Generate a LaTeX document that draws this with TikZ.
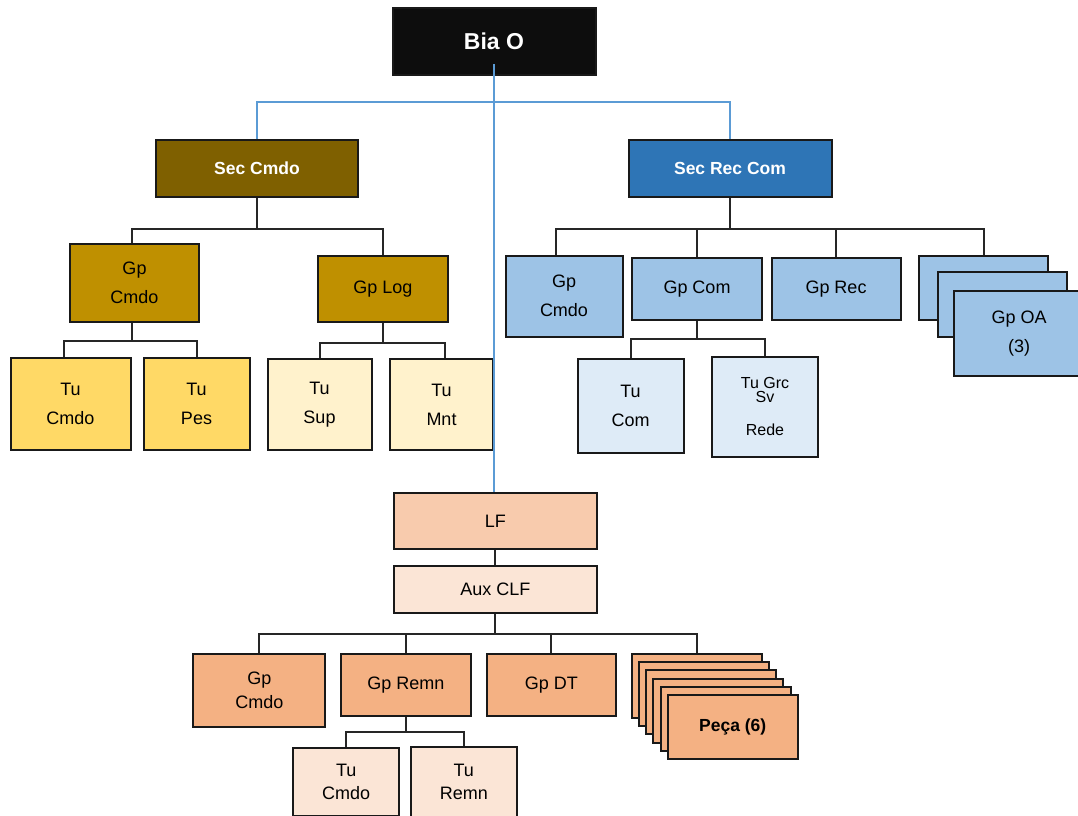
\documentclass[tikz,border=0pt]{standalone}
\usepackage{fontspec}
\setmainfont{Liberation Sans}
\definecolor{biaBlack}{HTML}{0D0D0D}
\definecolor{secBrown}{HTML}{7F6000}
\definecolor{gpGold}{HTML}{BF9000}
\definecolor{tuGold}{HTML}{FFD966}
\definecolor{tuPale}{HTML}{FFF2CC}
\definecolor{secBlue}{HTML}{2E75B6}
\definecolor{gpBlue}{HTML}{9DC3E6}
\definecolor{tuBlue}{HTML}{DEEBF7}
\definecolor{lfOrange}{HTML}{F8CBAD}
\definecolor{auxOrange}{HTML}{FBE5D6}
\definecolor{gpOrange}{HTML}{F4B183}
\definecolor{lineblue}{HTML}{5B9BD5}
\begin{document}
\begin{tikzpicture}[x=1pt,y=-1pt,
  box/.style={draw=black!90, line width=2pt, rectangle, inner sep=0pt, align=center, font=\fontsize{18}{29}\selectfont},
  whitebold/.style={text=white, font=\fontsize{17.5}{20}\selectfont\bfseries},
  tight/.style={font=\fontsize{18}{23.5}\selectfont},
  conn/.style={draw=black!85, line width=2pt},
  blueline/.style={draw=lineblue, line width=2pt},
]
\useasboundingbox (0,0) rectangle (1078,815);

% top
\node[box, fill=biaBlack, text=white, font=\fontsize{23}{26}\selectfont\bfseries, minimum width=203pt, minimum height=67.5pt] (bia) at (494,41.25) {Bia O};

% sections
\node[box, fill=secBrown, whitebold, minimum width=202pt, minimum height=56.5pt] (secC) at (257,168.5) {Sec Cmdo};
\node[box, fill=secBlue, whitebold, minimum width=203pt, minimum height=56.5pt] (secR) at (730,168.5) {Sec Rec Com};

% left branch
\node[box, fill=gpGold, minimum width=129pt, minimum height=78pt] (gpC) at (134.5,282.5) {Gp\\Cmdo};
\node[box, fill=gpGold, minimum width=130pt, minimum height=66pt] (gpL) at (383,289) {Gp Log};
\node[box, fill=tuGold, minimum width=120pt, minimum height=92pt] (tuC) at (70.5,403.5) {Tu\\Cmdo};
\node[box, fill=tuGold, minimum width=106pt, minimum height=92pt] (tuP) at (196.5,403.5) {Tu\\Pes};
\node[box, fill=tuPale, minimum width=104pt, minimum height=91pt] (tuS) at (319.5,404.5) {Tu\\Sup};
\node[box, fill=tuPale, minimum width=103pt, minimum height=91pt] (tuM) at (441.5,404.5) {Tu\\Mnt};

% right branch
\node[box, fill=gpBlue, minimum width=117pt, minimum height=81pt] (gpCb) at (564,296) {Gp\\Cmdo};
\node[box, fill=gpBlue, minimum width=130pt, minimum height=62pt] (gpCom) at (697,289) {Gp Com};
\node[box, fill=gpBlue, minimum width=129pt, minimum height=62pt] (gpRec) at (836,289) {Gp Rec};
\node[box, fill=gpBlue, minimum width=129pt, minimum height=64pt] (oa1) at (983.5,288) {};
\node[box, fill=gpBlue, minimum width=129pt, minimum height=64.5pt] (oa2) at (1002.5,304.5) {};
\node[box, fill=gpBlue, minimum width=130pt, minimum height=85pt] (oa3) at (1019,333.5) {Gp OA\\(3)};
\node[box, fill=tuBlue, minimum width=106pt, minimum height=94pt] (tuCom) at (630.5,406) {Tu\\Com};
\node[box, fill=tuBlue, minimum width=106pt, minimum height=100pt, font=\fontsize{16}{14}\selectfont] (tuGrc) at (765,406.7) {Tu Grc\\Sv\\[19pt]Rede};

% LF branch
\node[box, fill=lfOrange, minimum width=202.7pt, minimum height=56pt] (lf) at (495.3,521.3) {LF};
\node[box, fill=auxOrange, minimum width=202.7pt, minimum height=47.6pt] (aux) at (495.3,589.5) {Aux CLF};
\node[box, fill=gpOrange, tight, minimum width=132pt, minimum height=72.7pt] (gpCo) at (259.3,690.3) {Gp\\Cmdo};
\node[box, fill=gpOrange, minimum width=129.4pt, minimum height=62.3pt] (gpRem) at (406,685.2) {Gp Remn};
\node[box, fill=gpOrange, minimum width=129.3pt, minimum height=62.3pt] (gpDT) at (551.3,685.2) {Gp DT};
\foreach \i in {1,...,5} {
  \node[box, fill=gpOrange, minimum width=130pt, minimum height=64pt] (pc\i) at ({697+7.15*(\i-1)},{686+8.2*(\i-1)}) {};
}
\node[box, fill=gpOrange, font=\fontsize{17.5}{20}\selectfont\bfseries, minimum width=130pt, minimum height=64pt] (pc6) at (732.75,727) {Peça (6)};
\node[box, fill=auxOrange, tight, minimum width=105.7pt, minimum height=68pt] (tuCo) at (346.2,782) {Tu\\Cmdo};
\node[box, fill=auxOrange, tight, minimum width=105.7pt, minimum height=70pt] (tuRe) at (463.8,781.7) {Tu\\Remn};

% blue connectors
\draw[blueline] ([yshift=12pt]bia.south) -- (bia.south |- lf.north);
\draw[blueline] (secC.north) -- ++(0,-37) -| (secR.north);

% black connectors
\draw[conn] (secC.south) -- ++(0,31) -| ([xshift=-3pt]gpC.north);
\draw[conn] (secC.south) -- ++(0,31) -| (gpL.north);

\draw[conn] ([xshift=-3pt]gpC.south) -- ++(0,18.5) -| ([xshift=-7pt]tuC.north);
\draw[conn] ([xshift=-3pt]gpC.south) -- ++(0,18.5) -| (tuP.north);
\draw[conn] (gpL.south) -- ++(0,19.5) -| (tuS.north);
\draw[conn] (gpL.south) -- ++(0,19.5) -| ([xshift=3pt]tuM.north);

\draw[conn] (secR.south) -- ++(0,31) -| ([xshift=-8pt]gpCb.north);
\draw[conn] (secR.south) -- ++(0,31) -| (gpCom.north);
\draw[conn] (secR.south) -- ++(0,31) -| (gpRec.north);
\draw[conn] (secR.south) -- ++(0,31) -| (oa1.north);

\draw[conn] (gpCom.south) -- ++(0,18) -| (tuCom.north);
\draw[conn] (gpCom.south) -- ++(0,18) -| (tuGrc.north);

\draw[conn] (lf.south) -- (aux.north);
\draw[conn] (aux.south) -- ++(0,20) -| (gpCo.north);
\draw[conn] (aux.south) -- ++(0,20) -| (gpRem.north);
\draw[conn] (aux.south) -- ++(0,20) -| (gpDT.north);
\draw[conn] (aux.south) -- ++(0,20) -| (pc1.north);

\draw[conn] (gpRem.south) -- ++(0,14.5) -| (tuCo.north);
\draw[conn] (gpRem.south) -- ++(0,14.5) -| (tuRe.north);
\end{tikzpicture}
\end{document}
